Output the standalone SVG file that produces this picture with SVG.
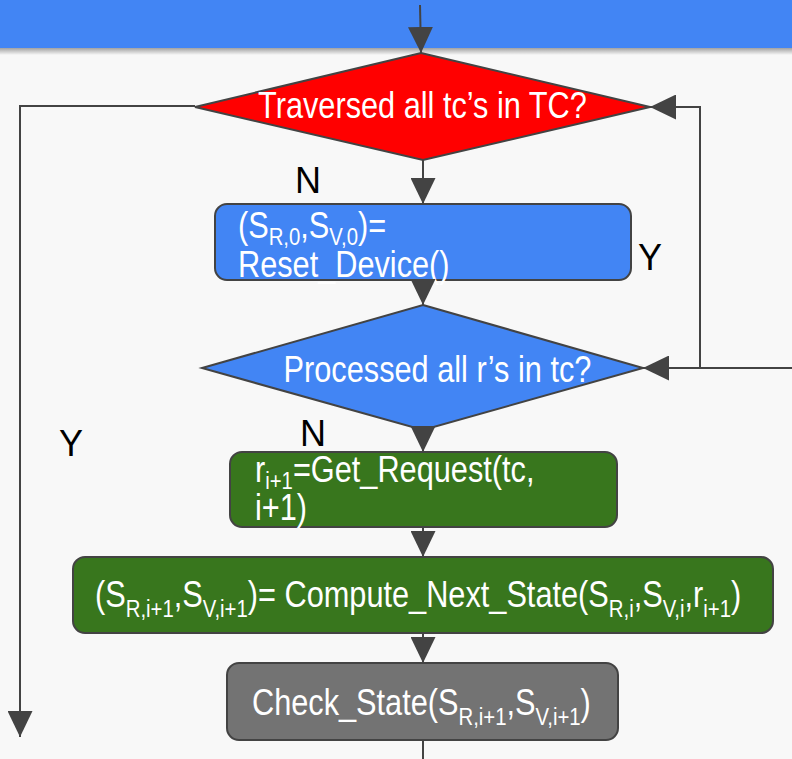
<svg xmlns="http://www.w3.org/2000/svg" width="792" height="759" viewBox="0 0 792 759">
<defs>
<linearGradient id="shadow" x1="0" y1="0" x2="0" y2="1">
<stop offset="0" stop-color="#000" stop-opacity="0.35"/>
<stop offset="1" stop-color="#000" stop-opacity="0"/>
</linearGradient>
<marker id="arr" viewBox="0 0 26 25" refX="26" refY="12.5" markerWidth="26" markerHeight="25" markerUnits="userSpaceOnUse" orient="auto">
<path d="M0,0 L26,12.5 L0,25 z" fill="#434343"/>
</marker>
</defs>
<style>
.bg{fill:#f8f8f8}
.shape{stroke:#434343;stroke-width:2}
.t{font-family:"Liberation Sans",Arial,sans-serif;font-size:37px;fill:#fff}
.sub{font-size:24.5px}
.lbl{font-family:"Liberation Sans",Arial,sans-serif;font-size:36px;fill:#000}
.conn{fill:none;stroke:#434343;stroke-width:2}
</style>
<rect class="bg" x="0" y="0" width="792" height="759"/>
<rect x="0" y="0" width="792" height="48" fill="#4285f4"/>
<rect x="0" y="48" width="792" height="7" fill="url(#shadow)"/>

<g id="traversed">
<polygon class="shape" points="421,53 650,107 423,160 195,107" fill="#ff0000"/>
<text class="t" transform="scale(0.83 1)" x="509" y="118" text-anchor="middle">Traversed all tc’s in TC?</text>
</g>

<g id="reset">
<rect class="shape" x="215" y="204" width="416" height="76" rx="12" fill="#4285f4"/>
<text class="t" transform="scale(0.83 1)" x="286.7" y="238">(S<tspan class="sub" dy="7">R,0</tspan><tspan dy="-7">,S</tspan><tspan class="sub" dy="7">V,0</tspan><tspan dy="-7">)=</tspan></text>
<text class="t" transform="scale(0.83 1)" x="286.7" y="277">Reset_Device()</text>
</g>

<g id="processed">
<polygon class="shape" points="423,305 643,368 423,430 202,368" fill="#4285f4"/>
<text class="t" transform="scale(0.83 1)" x="527.1" y="382" text-anchor="middle">Processed all r’s in tc?</text>
</g>

<g id="get-request">
<rect class="shape" x="230" y="452" width="387" height="75" rx="12" fill="#38761d"/>
<text class="t" transform="scale(0.83 1)" x="307.2" y="482">r<tspan class="sub" dy="7">i+1</tspan><tspan dy="-7">=Get_Request(tc,</tspan></text>
<text class="t" transform="scale(0.83 1)" x="307.2" y="520">i+1)</text>
</g>

<g id="compute">
<rect class="shape" x="73" y="557" width="700" height="76" rx="12" fill="#38761d"/>
<text class="t" transform="scale(0.83 1)" x="114.5" y="607">(S<tspan class="sub" dy="10">R,i+1</tspan><tspan dy="-10">,S</tspan><tspan class="sub" dy="10">V,i+1</tspan><tspan dy="-10">)= Compute_Next_State(S</tspan><tspan class="sub" dy="10">R,i</tspan><tspan dy="-10">,S</tspan><tspan class="sub" dy="10">V,i</tspan><tspan dy="-10">,r</tspan><tspan class="sub" dy="10">i+1</tspan><tspan dy="-10">)</tspan></text>
</g>

<g id="check">
<rect class="shape" x="227" y="663" width="391" height="77" rx="12" fill="#737373"/>
<text class="t" transform="scale(0.83 1)" x="303.6" y="715">Check_State(S<tspan class="sub" dy="10">R,i+1</tspan><tspan dy="-10">,S</tspan><tspan class="sub" dy="10">V,i+1</tspan><tspan dy="-10">)</tspan></text>
</g>

<g id="connectors">
<path class="conn" d="M420,5 L421,53" marker-end="url(#arr)"/>
<path class="conn" d="M423,160 L423,204" marker-end="url(#arr)"/>
<path class="conn" d="M423,280 L423,305" marker-end="url(#arr)"/>
<path class="conn" d="M423,430 L423,452" marker-end="url(#arr)"/>
<path class="conn" d="M423,527 L423,557" marker-end="url(#arr)"/>
<path class="conn" d="M423,633 L423,663" marker-end="url(#arr)"/>
<path class="conn" d="M423,740 L423,759"/>
<path class="conn" d="M195,106 L20,106 L20,737" marker-end="url(#arr)"/>
<path class="conn" d="M792,368 L643,368" marker-end="url(#arr)"/>
<path class="conn" d="M700,368 L700,107 L650,107" marker-end="url(#arr)"/>
</g>

<g id="labels">
<text class="lbl" x="295" y="193">N</text>
<text class="lbl" x="300" y="446">N</text>
<text class="lbl" x="638" y="270">Y</text>
<text class="lbl" x="59" y="456">Y</text>
</g>
</svg>
